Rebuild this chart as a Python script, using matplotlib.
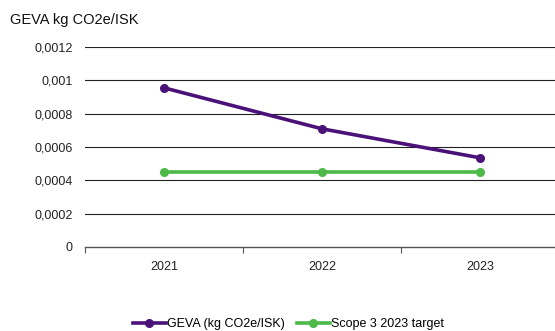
import matplotlib
matplotlib.use("Agg")
import matplotlib.pyplot as plt
from matplotlib.ticker import FuncFormatter, FixedLocator

plt.rcParams['font.family'] = ['Liberation Sans', 'DejaVu Sans']

years = ['2021', '2022', '2023']
geva = [0.000955, 0.000709, 0.000535]
target = [0.00045, 0.00045, 0.00045]

purple = '#4A1279'
green = '#4CB948'

fig = plt.figure(figsize=(5.55, 3.31), dpi=100)
ax = fig.add_axes([0.153, 0.254, 0.847, 0.604])

x = list(range(len(years)))
ax.plot(x, geva, color=purple, lw=2.6, marker='o', ms=5.5, label='GEVA (kg CO2e/ISK)', zorder=3)
ax.plot(x, target, color=green, lw=2.6, marker='o', ms=5.5, label='Scope 3 2023 target', zorder=3)

ax.set_ylim(0, 0.0012)
ax.set_xlim(-0.5, 2.475)
yt = [0, 0.0002, 0.0004, 0.0006, 0.0008, 0.001, 0.0012]
ax.set_yticks(yt)
ax.yaxis.set_major_formatter(FuncFormatter(
    lambda v, p: '0' if v == 0 else ('%g' % round(v, 5)).replace('.', ',')))
for v in yt[1:]:
    ax.axhline(v, color='#222222', lw=0.8, zorder=1)

ax.set_xticks(x)
ax.set_xticklabels(years)
ax.xaxis.set_minor_locator(FixedLocator([-0.5, 0.5, 1.5, 2.5]))
ax.tick_params(axis='x', which='major', length=0, pad=10, labelsize=9, colors='#222222')
ax.tick_params(axis='x', which='minor', length=4, width=0.8, color='#555555')
ax.tick_params(axis='y', length=0, pad=9, labelsize=9, colors='#222222')

for s in ['top', 'right', 'left']:
    ax.spines[s].set_visible(False)
ax.spines['bottom'].set_color('#555555')
ax.spines['bottom'].set_linewidth(1.0)

fig.text(0.018, 0.94, 'GEVA kg CO2e/ISK', fontsize=10.5, color='#111111', va='center')

fig.legend(loc='center', bbox_to_anchor=(0.52, 0.02), ncol=2, frameon=False,
           fontsize=9, handlelength=2.6, handletextpad=0.1, columnspacing=1.0)

fig.savefig('out.png', dpi=100)
